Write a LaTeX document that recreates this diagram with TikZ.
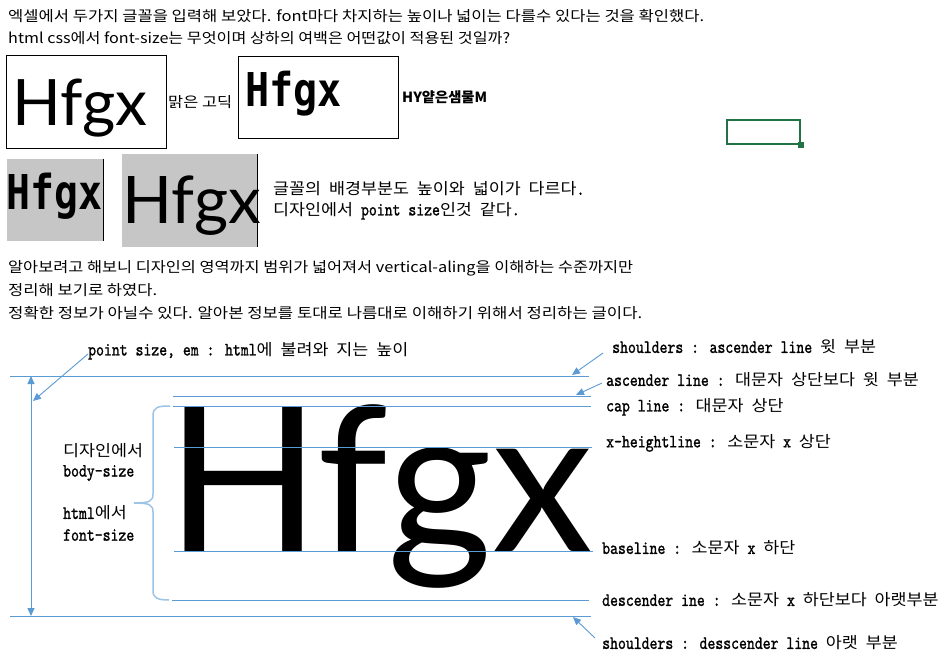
\documentclass[tikz,border=0pt]{standalone}
\usepackage{fontspec}
\usetikzlibrary{arrows.meta}
\newfontfamily\kr{Noto Sans CJK KR}
\newfontfamily\lato{Lato}
\newfontfamily\blk{DejaVu Sans Mono}
\newfontfamily\lbfont{lmmono10-regular}[Extension=.otf, FakeStretch=0.8, FakeBold=1.2]
\definecolor{lblue}{HTML}{5B9BD5}
\definecolor{bracec}{HTML}{9DC3E6}
\definecolor{xlgreen}{HTML}{217346}
\definecolor{cellgray}{HTML}{C6C6C6}
\newcommand\K[1]{\scalebox{1.1}[1]{\kr\fontsize{15.8}{18}\selectfont #1}}
\newcommand\fitw[2]{\resizebox{#1}{\height}{#2}}
\tikzset{
  bline/.style={draw=lblue, line width=1pt},
  barrow/.style={draw=lblue, line width=0.9pt, -{Triangle[width=7pt,length=8pt]}},
  mtxt/.style={inner sep=0pt, anchor=west, font=\kr\fontsize{14.5}{17}\selectfont},
  lbl/.style={inner sep=0pt, anchor=west, font=\lbfont\fontsize{18.8}{20}\selectfont},
  framebox/.style={draw=black, line width=1.2pt, inner sep=0pt, anchor=north west},
  graybox/.style={fill=cellgray, inner sep=0pt, anchor=north west},
}
\begin{document}
\begin{tikzpicture}[x=1pt,y=-1pt]
\useasboundingbox (0,0) rectangle (948,660);
\fill[white] (0,0) rectangle (948,660);

% top text
\node[mtxt] (t1) at (8,16) {\fitw{696pt}{엑셀에서 두가지 글꼴을 입력해 보았다. font마다 차지하는 높이나 넓이는 다를수 있다는 것을 확인했다.}};
\node[mtxt] (t2) at (8,38) {\fitw{502pt}{html css에서 font-size는 무엇이며 상하의 여백은 어떤값이 적용된 것일까?}};

% sample boxes
\node[framebox, minimum width=160pt, minimum height=93pt] (b1) at (6,55) {};
\node[anchor=base west, inner sep=0pt, font=\lato\fontsize{64}{64}\selectfont] (h1) at (12,126) {Hfgx};
\node[mtxt] (mg) at (168,102) {\fitw{64pt}{맑은 고딕}};
\node[framebox, minimum width=160pt, minimum height=82pt] (b2) at (238,56) {};
\node[anchor=base west, inner sep=0pt] (h2) at (245,107) {\scalebox{0.86}[1]{\blk\bfseries\fontsize{46.6}{47}\selectfont Hfgx}};
\node[inner sep=0pt, anchor=west] (hy) at (402,97) {\fitw{85pt}{\kr\bfseries\fontsize{14}{16}\selectfont HY얕은샘물M}};

% excel cell
\node[draw=xlgreen, line width=2pt, minimum width=73pt, minimum height=24pt, inner sep=0pt, anchor=north west] (cell) at (726,119) {};
\fill[xlgreen] (cell.south east) ++(-3,-3) rectangle ++(6,6);

% gray boxes
\node[graybox, minimum width=96pt, minimum height=82pt] (g1) at (7,159) {};
\draw[line width=1pt] (g1.north east) -- (g1.south east);
\node[anchor=base west, inner sep=0pt] (h3) at (6,210) {\scalebox{0.83}[1]{\blk\bfseries\fontsize{48}{48}\selectfont Hfgx}};
\node[graybox, minimum width=135pt, minimum height=93pt] (g2) at (122,154) {};
\draw[line width=1pt] (g2.north east) -- (g2.south east);
\node[anchor=base west, inner sep=0pt, font=\lato\fontsize{65.6}{66}\selectfont] (h4) at (122,224) {Hfgx};

\node[lbl] (m1) at (273,189) {\K{글꼴의} \K{배경부분도} \K{높이와} \K{넓이가} \K{다르다}.};
\node[lbl] (m2) at (273,211) {\K{디자인에서} point size\K{인것} \K{같다}.};

% paragraph
\node[mtxt] (p1) at (8,268) {\fitw{625pt}{알아보려고 해보니 디자인의 영역까지 범위가 넓어져서 vertical-aling을 이해하는 수준까지만}};
\node[mtxt] (p2) at (8,290) {\fitw{149pt}{정리해 보기로 하였다.}};
\node[mtxt] (p3) at (8,313) {\fitw{634pt}{정확한 정보가 아닐수 있다. 알아본 정보를 토대로 나름대로 이해하기 위해서 정리하는 글이다.}};

% big sample
\node[anchor=base west, inner sep=0pt, font=\lato\fontsize{202}{202}\selectfont] (big) at (166,551) {Hfgx};

% metric lines
\coordinate (sh1a) at (10,376);  \coordinate (sh1b) at (589,376);
\coordinate (asa) at (173,396);  \coordinate (asb) at (591,396);
\coordinate (capa) at (173,406); \coordinate (capb) at (591,406);
\coordinate (xha) at (174,447);  \coordinate (xhb) at (592,447);
\coordinate (bsa) at (174,551);  \coordinate (bsb) at (593,551);
\coordinate (dsa) at (172,600);  \coordinate (dsb) at (589,600);
\coordinate (sh2a) at (10,616);  \coordinate (sh2b) at (591,616);
\draw[bline] (sh1a) -- (sh1b);
\draw[bline] (asa) -- (asb);
\draw[bline] (capa) -- (capb);
\draw[bline] (xha) -- (xhb);
\draw[bline] (bsa) -- (bsb);
\draw[bline] (dsa) -- (dsb);
\draw[bline] (sh2a) -- (sh2b);

% vertical em arrow
\coordinate (va1) at (31,376); \coordinate (va2) at (31,616);
\draw[lblue, line width=1pt, {Triangle[width=7pt,length=8pt]}-{Triangle[width=7pt,length=8pt]}] (va1) -- (va2);

% labels
\node[lbl] (ps) at (88,351) {point size, em : html\K{에} \K{불려와} \K{지는} \K{높이}};
\coordinate (psT) at (33,401);
\draw[barrow] ([yshift=-3pt]ps.west) -- (psT);

\node[lbl] (l1) at (612,347) {shoulders : ascender line \K{윗} \K{부분}};
\node[lbl] (l2) at (606,380) {ascender line : \K{대문자} \K{상단보다} \K{윗} \K{부분}};
\node[lbl] (l3) at (606,407) {cap line : \K{대문자} \K{상단}};
\node[lbl] (l4) at (606,443) {x-heightline : \K{소문자} x \K{상단}};
\node[lbl] (l5) at (602,548) {baseline : \K{소문자} x \K{하단}};
\node[lbl] (l6) at (602,600) {descender ine : \K{소문자} x \K{하단보다} \K{아랫부분}};
\node[lbl] (l7) at (602,643) {shoulders : desscender line \K{아랫} \K{부분}};

\coordinate (a1s) at (603,353); \coordinate (a1e) at (572,375);
\coordinate (a2s) at (602,383); \coordinate (a2e) at (576,395);
\coordinate (a3s) at (595,638); \coordinate (a3e) at (573,617);
\draw[barrow] (a1s) -- (a1e);
\draw[barrow] (a2s) -- (a2e);
\draw[barrow] (a3s) -- (a3e);

% brace
\draw[bracec, line width=1.5pt] (170,406) .. controls (158,406) and (153,407) .. (153,416) -- (153,494) .. controls (153,501) and (150,503) .. (134,503) .. controls (150,503) and (153,505) .. (153,512) -- (153,591) .. controls (153,598) and (158,600) .. (169,600);

\node[lbl] (d1) at (63,451) {\K{디자인에서}};
\node[lbl] (d2) at (63,473) {body-size};
\node[lbl] (d3) at (63,513) {html\K{에서}};
\node[lbl] (d4) at (63,535) {font-size};
\end{tikzpicture}
\end{document}
